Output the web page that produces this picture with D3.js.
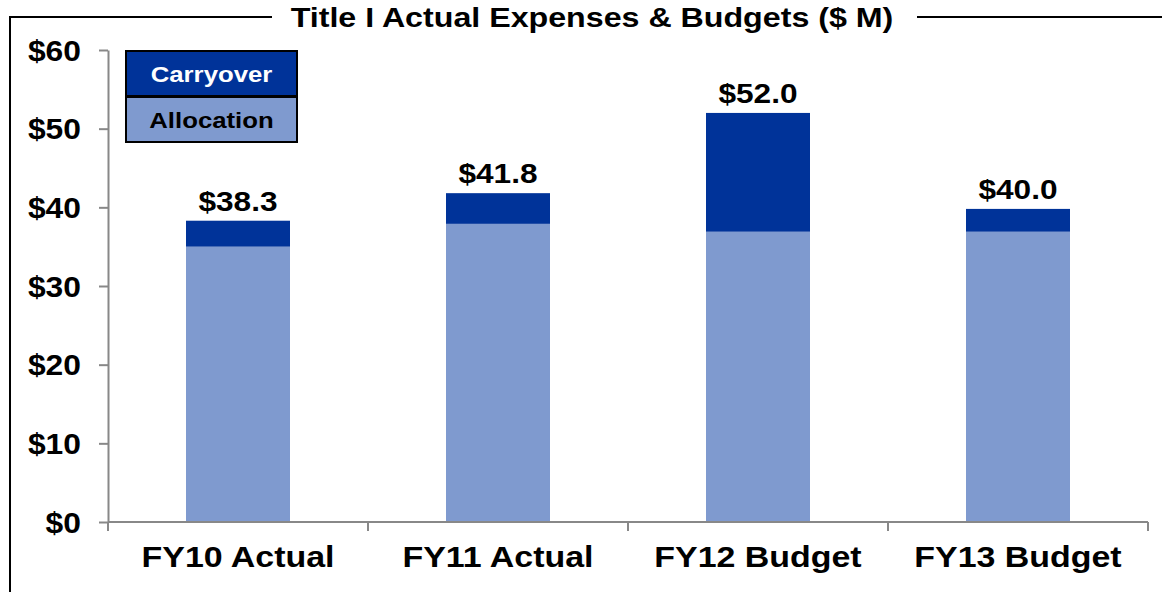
<!DOCTYPE html>
<html>
<head>
<meta charset="utf-8">
<script src="https://cdn.jsdelivr.net/npm/d3@7"></script>
<style>
  body { margin: 0; background: #fff; }
  text { font-family: "Liberation Sans", Arial, sans-serif; font-weight: bold; }
</style>
</head>
<body>
<svg id="chart" width="1162" height="592"></svg>
<script>
// chart data
var categories = ["FY10 Actual", "FY11 Actual", "FY12 Budget", "FY13 Budget"];
var allocation = [35.0, 37.9, 36.9, 36.9];
var carryover  = [3.3, 3.9, 15.1, 2.9];
var totals     = ["$38.3", "$41.8", "$52.0", "$40.0"];
var yTicks     = [0, 10, 20, 30, 40, 50, 60];

var COLOR_DARK = "#003399";
var COLOR_LIGHT = "#7f9acf";

var svg = d3.select("#chart");

var plotLeft = 108, plotRight = 1148, plotTop = 50, plotBottom = 522;

var x = d3.scaleBand().domain(categories).range([plotLeft, plotRight]).paddingInner(0.6).paddingOuter(0.3);
var xEdge = d3.scaleBand().domain(categories).range([plotLeft, plotRight]);
var y = d3.scaleLinear().domain([0, 60]).range([plotBottom, plotTop]);

// text helper: the source font renders a bit wider than Liberation, so stretch horizontally
function _drawText(g, txt, px, py, opt){
  return g.append("text")
    .attr("transform", "translate(" + px + "," + py + ") scale(" + (opt.stretch || 1) + ",1)")
    .attr("text-anchor", opt.anchor || "middle")
    .attr("fill", opt.color || "#000")
    .style("font-size", opt.size)
    .text(txt);
}

// ---- frame + title ----
var title = "Title I Actual Expenses & Budgets ($ M)";
svg.append("line").attr("x1", 10).attr("x2", 10).attr("y1", 16).attr("y2", 592)
  .attr("stroke", "#000").attr("stroke-width", 2);
svg.append("line").attr("x1", 9).attr("x2", 272).attr("y1", 17).attr("y2", 17)
  .attr("stroke", "#000").attr("stroke-width", 2);
svg.append("line").attr("x1", 917).attr("x2", 1162).attr("y1", 17).attr("y2", 17)
  .attr("stroke", "#000").attr("stroke-width", 2);
_drawText(svg, title, 592, 27, {size: "28px", stretch: 1.15});

// ---- bars ----
var gBars = svg.append("g");
categories.forEach(function(c, i){
  var cx = x(c) + x.bandwidth() / 2;
  gBars.append("rect")
    .attr("x", x(c)).attr("width", x.bandwidth())
    .attr("y", y(allocation[i])).attr("height", y(0) - y(allocation[i]))
    .attr("fill", COLOR_LIGHT);
  gBars.append("rect")
    .attr("x", x(c)).attr("width", x.bandwidth())
    .attr("y", y(allocation[i] + carryover[i])).attr("height", y(allocation[i]) - y(allocation[i] + carryover[i]))
    .attr("fill", COLOR_DARK);
  _drawText(gBars, totals[i], cx, y(allocation[i] + carryover[i]) - 10, {size: "28px", stretch: 1.13});
});

// ---- axes ----
var gY = svg.append("g").attr("transform", "translate(" + plotLeft + ",0)")
  .call(d3.axisLeft(y).tickValues(yTicks).tickSize(9).tickSizeOuter(0).tickFormat(function(d){ return "$" + d; }));
gY.select(".domain").attr("stroke", "#888").attr("stroke-width", 2);
gY.selectAll(".tick line").attr("stroke", "#888").attr("stroke-width", 2);
gY.selectAll(".tick text")
  .attr("x", null).attr("dy", null)
  .attr("transform", "translate(-27,10) scale(1.06,1)")
  .attr("fill", "#000").style("font-size", "30px")
  .style("font-family", "'Liberation Sans', Arial, sans-serif");

var gX = svg.append("g").attr("transform", "translate(0," + plotBottom + ")");
gX.append("line").attr("x1", plotLeft).attr("x2", plotRight).attr("y1", 0).attr("y2", 0)
  .attr("stroke", "#888").attr("stroke-width", 2);
categories.forEach(function(c){
  _drawText(gX, c, x(c) + x.bandwidth() / 2, 45, {size: "29px", stretch: 1.17});
});
var edges = categories.map(function(c){ return xEdge(c); }).concat([plotRight]);
gX.selectAll("line.tk").data(edges).enter().append("line").attr("class", "tk")
  .attr("x1", function(d){ return d; }).attr("x2", function(d){ return d; })
  .attr("y1", 0).attr("y2", 9).attr("stroke", "#888").attr("stroke-width", 2);

// ---- legend ----
var legendItems = [{label: "Carryover", color: COLOR_DARK, text: "#fff"},
                   {label: "Allocation", color: COLOR_LIGHT, text: "#000"}];
var gLeg = svg.append("g").attr("transform", "translate(126,51)");
legendItems.forEach(function(d, i){
  gLeg.append("rect").attr("x", 0).attr("y", i * 46).attr("width", 171).attr("height", 45)
    .attr("fill", d.color).attr("stroke", "#000").attr("stroke-width", 2);
  _drawText(gLeg, d.label, 85.5, i * 46 + 31, {size: "23px", stretch: 1.12, color: d.text});
});
</script>
</body>
</html>
